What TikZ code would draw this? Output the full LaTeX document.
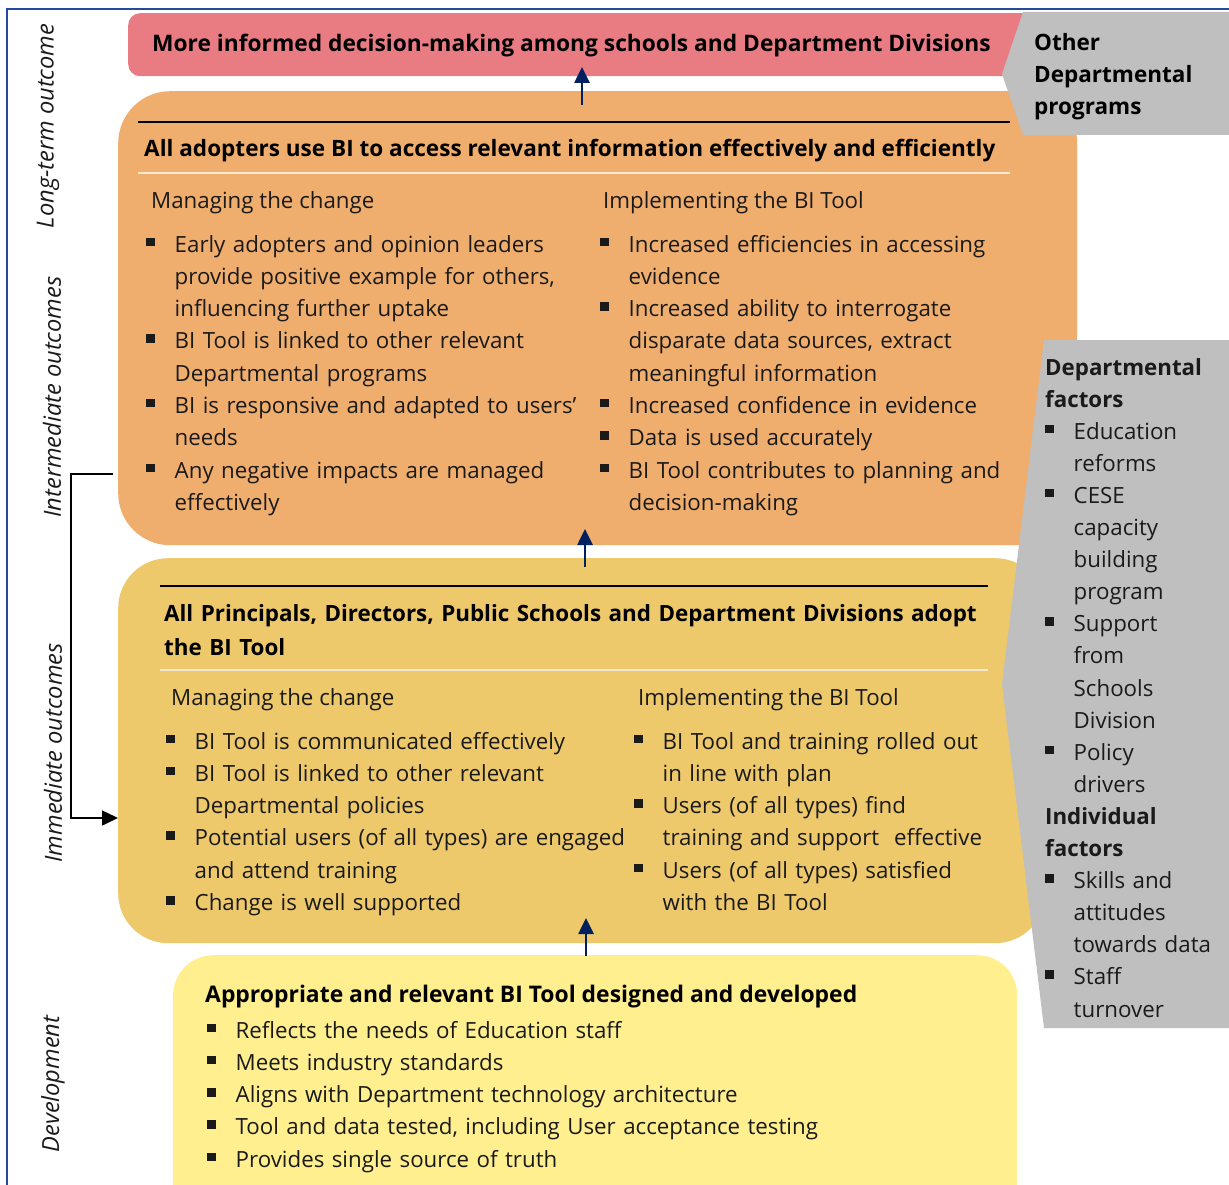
\documentclass[tikz,border=0pt]{standalone}
\usepackage{fontspec}
\setmainfont{Open Sans}
\usetikzlibrary{arrows.meta}

\definecolor{frameblue}{HTML}{254A9A}
\definecolor{pinkbox}{HTML}{E97C83}
\definecolor{orangebox}{HTML}{EFAE6E}
\definecolor{goldbox}{HTML}{EDC96C}
\definecolor{yellowbox}{HTML}{FFEF8F}
\definecolor{greybox}{HTML}{BFBFBF}
\definecolor{navy}{HTML}{002060}
\definecolor{creamline}{HTML}{F6E9D2}
\definecolor{inktext}{HTML}{1A1A1A}

\newcommand\bodyfont{\fontsize{22.3}{32.3}\selectfont\hyphenpenalty=10000 }
\newcommand\factorfont{\fontsize{22.3}{32.1}\selectfont\hyphenpenalty=10000 }
\newcommand\boldsize[1]{\fontsize{#1}{34}\selectfont\bfseries}
\newcommand\sqbullet{\makebox[28.5pt][l]{\raisebox{6pt}{\rule{8.5pt}{8.5pt}}}}
% first bullet of a list (already in a paragraph), later bullets start a new one
\newcommand\firstbitem{\hangindent=28.5pt\hangafter=1\sqbullet}
\newcommand\bitem{\par\noindent\firstbitem}

\begin{document}
\begin{tikzpicture}[x=1pt,y=-1pt,
  box/.style={rectangle, draw=none, inner sep=0, anchor=north west},
  body/.style={anchor=base west, inner sep=0, text=inktext, font=\bodyfont},
  list/.style={body, text width=#1},
  head/.style={anchor=base west, inner sep=0, text=black, font=\boldsize{#1}},
  sidelabel/.style={rotate=90, inner sep=0, text=inktext, font=\fontsize{23.6}{30}\selectfont\itshape},
  uparrow/.style={draw=navy, line width=2.6pt, -{Triangle[length=16pt,width=15pt]}},
  blackrule/.style={draw=black, line width=1.2pt},
  creamrule/.style={draw=creamline, line width=2.5pt}]

\useasboundingbox (0,0) rectangle (1229,1185);
\fill[white] (0,0) rectangle (1229,1185);

% outer frame (left and top edges)
\draw[frameblue, line width=2pt] (7,1185) -- (7,9.5) -- (1229,9.5);

% stage boxes
\node[box, fill=pinkbox, rounded corners=12pt, minimum width=910pt, minimum height=63pt] (longterm) at (128,13) {};
\node[box, fill=orangebox, rounded corners=52pt, minimum width=959pt, minimum height=454pt] (intermediate) at (118,91) {};
\node[box, fill=goldbox, rounded corners=50pt, minimum width=927pt, minimum height=385pt] (immediate) at (118,558) {};
\node[box, fill=yellowbox, rounded corners=40pt, minimum width=844pt, minimum height=270pt] (development) at (173,955) {};

% external influences (grey arrow-shaped panels)
\fill[greybox] (1002,74) -- (1023,12) -- (1229,12) -- (1229,135) -- (1023,135) -- cycle;
\fill[greybox] (1002,684) -- (1044,340) -- (1229,340) -- (1229,1028) -- (1044,1028) -- cycle;

% long-term outcome
\node[head=22.75] (ltTitle) at (152,52)
  {More informed decision-making among schools and Department Divisions};
\node[head=22.5, text width=190pt, font=\fontsize{22.5}{32}\selectfont\bfseries] (otherProg) at (1034,51)
  {Other\newline Departmental\newline programs};

% intermediate outcomes
\draw[blackrule] (138,122) -- (1010,122);
\draw[creamrule] (138,173) -- (1010,173);
\node[head=22.55] (imTitle) at (144,157)
  {All adopters use BI to access relevant information effectively and efficiently};
\node[body] (imHeadL) at (151,209) {Managing the change};
\node[body] (imHeadR) at (603,209) {Implementing the BI Tool};
\node[list=520pt] (imListL) at (146,252) {%
  \firstbitem Early adopters and opinion leaders\newline provide positive example for others,\newline influencing further uptake
  \bitem BI Tool is linked to other relevant\newline Departmental programs
  \bitem BI is responsive and adapted to users’\newline needs
  \bitem Any negative impacts are managed\newline effectively\par};
\node[list=520pt] (imListR) at (600,252) {%
  \firstbitem Increased efficiencies in accessing\newline evidence
  \bitem Increased ability to interrogate\newline disparate data sources, extract\newline meaningful information
  \bitem Increased confidence in evidence
  \bitem Data is used accurately
  \bitem BI Tool contributes to planning and\newline decision-making\par};

% immediate outcomes
\draw[blackrule] (160,586) -- (988,586);
\draw[creamrule] (160,670) -- (988,670);
\node[head=22.4, text width=900pt] (iaTitle) at (164,621)
  {All Principals, Directors, Public Schools and Department Divisions adopt\newline the BI Tool};
\node[body] (iaHeadL) at (171,705) {Managing the change};
\node[body] (iaHeadR) at (638,705) {Implementing the BI Tool};
\node[list=560pt] (iaListL) at (166,749) {%
  \firstbitem BI Tool is communicated effectively
  \bitem BI Tool is linked to other relevant\newline Departmental policies
  \bitem Potential users (of all types) are engaged\newline and attend training
  \bitem Change is well supported\par};
\node[list=480pt] (iaListR) at (634,749) {%
  \firstbitem BI Tool and training rolled out\newline in line with plan
  \bitem Users (of all types) find\newline training and support~ effective
  \bitem Users (of all types) satisfied\newline with the BI Tool\par};

% development
\node[head=22.9] (devTitle) at (205,1002)
  {Appropriate and relevant BI Tool designed and developed};
\node[list=760pt] (devList) at (207,1038) {%
  \firstbitem Reflects the needs of Education staff
  \bitem Meets industry standards
  \bitem Aligns with Department technology architecture
  \bitem Tool and data tested, including User acceptance testing
  \bitem Provides single source of truth\par};

% contextual factors
\node[list=200pt, font=\factorfont] (factors) at (1045,375) {%
  \textbf{Departmental\newline factors}
  \bitem Education\newline reforms
  \bitem CESE\newline capacity\newline building\newline program
  \bitem Support\newline from\newline Schools\newline Division
  \bitem Policy\newline drivers
  \par\noindent\textbf{Individual\newline factors}
  \bitem Skills and\newline attitudes\newline towards data
  \bitem Staff\newline turnover\par};

% stage labels
\node[sidelabel] (lblLong) at (48,126) {Long-term outcome};
\node[sidelabel] (lblInter) at (52,397) {Intermediate outcomes};
\node[sidelabel] (lblImm) at (53,753) {Immediate outcomes};
\node[sidelabel] (lblDev) at (53,1084) {Development};

% progression arrows
\coordinate (upA0) at (582,105);
\coordinate (upA1) at (582,67);
\coordinate (upB0) at (585,567);
\coordinate (upB1) at (585,529);
\coordinate (upC0) at (586,956);
\coordinate (upC1) at (586,918);
\draw[uparrow] (upA0) -- (upA1);
\draw[uparrow] (upB0) -- (upB1);
\draw[uparrow] (upC0) -- (upC1);

% feedback bracket from intermediate back to immediate outcomes
\coordinate (fbStart) at (113,474);
\coordinate (fbEnd) at (118,818);
\draw[black, line width=1.6pt, -{Triangle[length=16pt,width=15pt]}]
  (fbStart) -- ++(-42,0) |- (fbEnd);
\end{tikzpicture}
\end{document}
